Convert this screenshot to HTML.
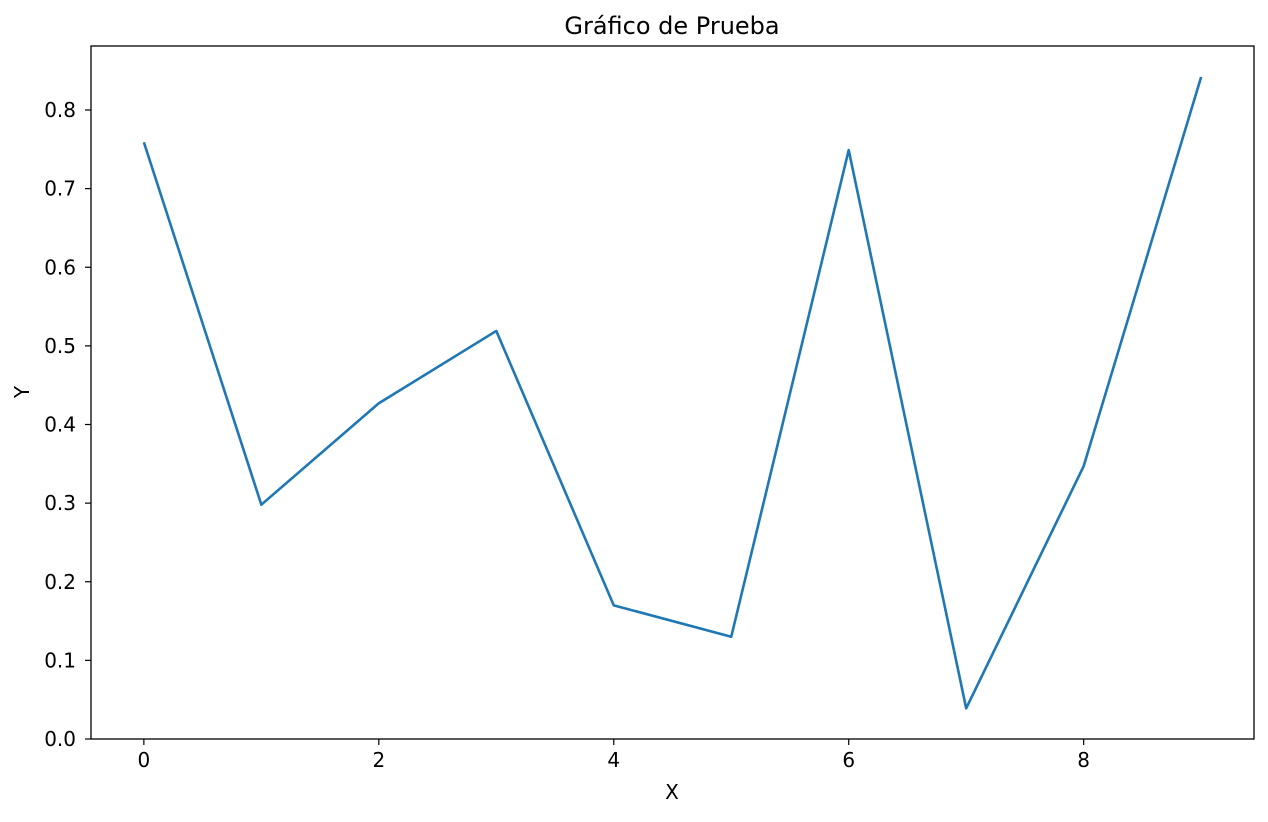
<!DOCTYPE html>
<html><head><meta charset="utf-8">
<style>
body{margin:0;background:#fff;}
svg text{font-family:"DejaVu Sans","Liberation Sans",sans-serif;fill:#000;}
</style></head>
<body>
<svg id="chart" width="1268" height="817" xmlns="http://www.w3.org/2000/svg">
<rect width="1268" height="817" fill="#fff"/>
<text x="672" y="34" font-size="24" text-anchor="middle">Gráfico de Prueba</text>
<text x="672" y="799" font-size="20" text-anchor="middle">X</text>
<text x="29" y="392" font-size="20" text-anchor="middle" transform="rotate(-90 29 392)">Y</text>
<g id="ticks"></g>
<polyline id="series" fill="none" stroke="#1f77b4" stroke-width="2.6" stroke-linejoin="round"/>
<rect x="91" y="46" width="1163" height="693" fill="none" stroke="#000" stroke-width="1.3"/>
</svg>
<script>
const xValues=[0,1,2,3,4,5,6,7,8,9];
const yValues=[0.759,0.298,0.427,0.519,0.170,0.130,0.749,0.039,0.347,0.842];
const xTicks=[0,2,4,6,8];
const yTicks=[0.0,0.1,0.2,0.3,0.4,0.5,0.6,0.7,0.8];
const L=91,R=1254,T=46,B=739,xMin=-0.45,xMax=9.45,yMin=0,yMax=0.8814;
function sx(v){return L+(v-xMin)/(xMax-xMin)*(R-L);}
function sy(v){return B-(v-yMin)/(yMax-yMin)*(B-T);}
const NS="http://www.w3.org/2000/svg";
const g=document.getElementById('ticks');
xTicks.forEach(t=>{
  const l=document.createElementNS(NS,'line');
  l.setAttribute('x1',sx(t));l.setAttribute('x2',sx(t));l.setAttribute('y1',B);l.setAttribute('y2',B+6);l.setAttribute('stroke','#000');l.setAttribute('stroke-width','1.2');
  
  
  g.appendChild(l);
  const tx=document.createElementNS(NS,'text');
  tx.setAttribute('x',sx(t));tx.setAttribute('y',B+28);tx.setAttribute('font-size','20');tx.setAttribute('text-anchor','middle');
  tx.textContent=t;
  
  
  g.appendChild(tx);
});
yTicks.forEach(t=>{
  const l=document.createElementNS(NS,'line');
  l.setAttribute('x1',L-6);l.setAttribute('x2',L);l.setAttribute('y1',sy(t));l.setAttribute('y2',sy(t));l.setAttribute('stroke','#000');l.setAttribute('stroke-width','1.2');
  
  
  g.appendChild(l);
  const tx=document.createElementNS(NS,'text');
  tx.setAttribute('x',L-15);tx.setAttribute('y',sy(t)+7);tx.setAttribute('font-size','20');tx.setAttribute('text-anchor','end');
  tx.textContent=t.toFixed(1);
  
  
  g.appendChild(tx);
});
document.getElementById('series').setAttribute('points',xValues.map((x,i)=>sx(x)+','+sy(yValues[i])).join(' '));
</script>
</body></html>
